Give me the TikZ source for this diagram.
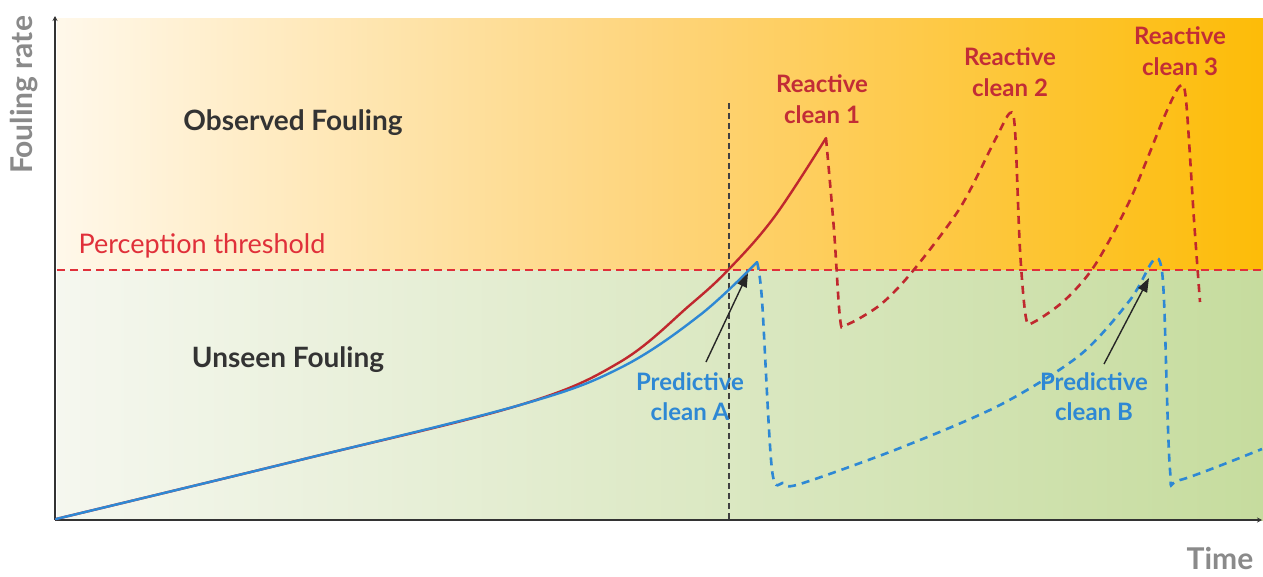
\documentclass[tikz,border=0pt]{standalone}
\usepackage{fontspec}
\setmainfont{Lato}
\usetikzlibrary{arrows.meta, positioning}

\definecolor{redline}{HTML}{C0282E}
\definecolor{redlabel}{HTML}{C22D36}
\definecolor{threshred}{HTML}{E0303A}
\definecolor{blueline}{HTML}{2E88D4}
\definecolor{axisgrey}{HTML}{8A8A8A}
\definecolor{topleft}{HTML}{FFF8EA}
\definecolor{topmid}{HTML}{FED47A}
\definecolor{topright}{HTML}{FDBC08}
\definecolor{botleft}{HTML}{F5F7EF}
\definecolor{botright}{HTML}{C6DC9E}

\begin{document}
\begin{tikzpicture}[x=1pt, y=-1pt,
	zone/.style = {font=\fontsize{28}{32}\selectfont\bfseries, text=black!80},
	reactive/.style = {font=\fontsize{24}{31}\selectfont\bfseries, text=redlabel, align=center},
	predictive/.style = {font=\fontsize{24}{30}\selectfont\bfseries, text=blueline, align=center},
	axislabel/.style = {font=\fontsize{30}{34}\selectfont\bfseries, text=axisgrey},
	solidcurve/.style = {line width=2.4pt, line cap=round},
	dashcurve/.style = {line width=2.6pt, dash pattern=on 8pt off 6pt},
	pointer/.style = {-{Triangle[length=14pt,width=10pt]}, line width=1.4pt, black!85}]
	\useasboundingbox (0,0) rectangle (1263,576);
	% background bands
	\fill[left color=topleft, right color=topright, middle color=topmid] (57,18) rectangle (1263,270);
	\fill[left color=botleft, right color=botright] (57,270) rectangle (1263,520);
	% axes
	\coordinate (O) at (55,520);
	\coordinate (ytop) at (55,16);
	\coordinate (xend) at (1262,520);
	\draw[line width=2pt, black!80, -{Stealth[length=5pt,width=5pt]}] (O) -- (ytop);
	\draw[line width=2pt, black!80, -{Stealth[length=5pt,width=5pt]}] (O) -- (xend);
	\node[axislabel, rotate=90] (yname) at (24,95) {Fouling rate};
	\node[axislabel] (xname) at (1220,558) {Time};
	% threshold
	\coordinate (thA) at (57,270);
	\coordinate (thB) at (1263,270);
	\draw[threshred, line width=1.8pt, dash pattern=on 8pt off 5pt] (thA) -- (thB);
	\node[font=\fontsize{27}{30}\selectfont, text=threshred] (thname) at (202,246) {Perception threshold};
	\node[zone] (seen) at (293,123) {Observed Fouling};
	\node[zone] (unseen) at (288,360) {Unseen Fouling};
	% moment the threshold is crossed
	\coordinate (cross) at (729,103);
	\coordinate (crossfoot) at (729,520);
	\draw[black!75, line width=2.2pt, dash pattern=on 6pt off 4pt] (cross) -- (crossfoot);
	% reactive cleaning
	\draw[redline, solidcurve] plot[smooth, tension=0.6] coordinates
		{(56,519) (300,460) (520,405) (620,362) (690,305) (730,268) (775,216) (826,138)};
	\draw[redline, dashcurve] plot[smooth, tension=0.5] coordinates
		{(826,138) (834,230) (840,318) (846,325) (880,305) (912,272) (960,208) (995,140) (1010,113) (1015,130)
		 (1020,250) (1026,318) (1034,322) (1065,300) (1095,265) (1130,200) (1165,115) (1180,86) (1186,100)
		 (1194,220) (1200,302)};
	% predictive cleaning
	\draw[blueline, solidcurve] plot[smooth, tension=0.6] coordinates
		{(56,519) (300,460) (520,405) (620,368) (700,315) (757,262)};
	\draw[blueline, dashcurve] plot[smooth, tension=0.5] coordinates
		{(757,262) (762,300) (772,470) (784,483) (800,484) (900,448) (1000,405) (1080,355) (1130,300) (1152,262)
		 (1160,262) (1164,300) (1170,470) (1180,480) (1262,449)};
	% labels
	\node[reactive] (rc1) at (822,99) {Reactive\\clean 1};
	\node[reactive] (rc2) at (1010,72) {Reactive\\clean 2};
	\node[reactive] (rc3) at (1180,51) {Reactive\\clean 3};
	\node[predictive] (pcA) at (690,397) {Predictive\\clean A};
	\node[predictive] (pcB) at (1094,397) {Predictive\\clean B};
	\coordinate (tailA) at (706,362);
	\coordinate (tailB) at (1104,364);
	\coordinate (tipA) at (748,273);
	\coordinate (tipB) at (1149,278);
	\draw[pointer] (tailA) -- (tipA);
	\draw[pointer] (tailB) -- (tipB);
\end{tikzpicture}
\end{document}
